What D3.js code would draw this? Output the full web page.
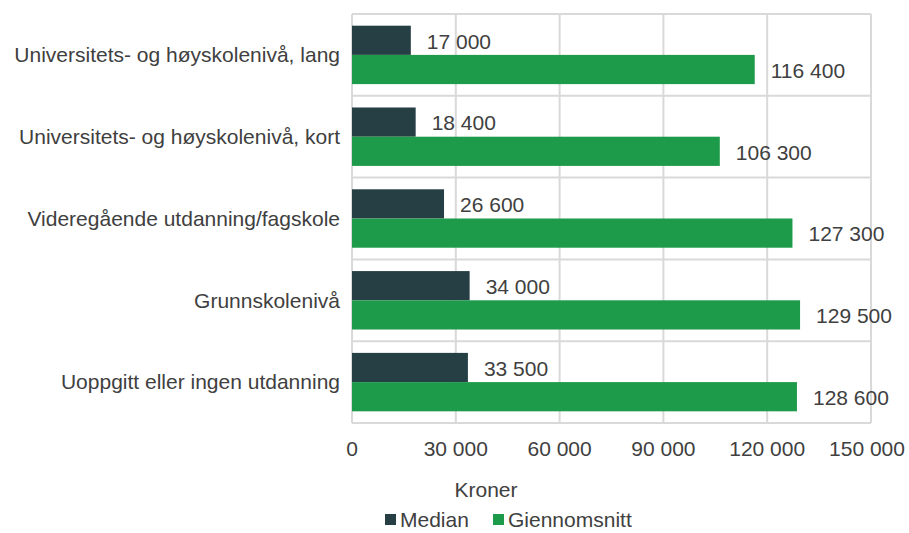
<!DOCTYPE html>
<html>
<head>
<meta charset="utf-8">
<script src="https://cdn.jsdelivr.net/npm/d3@7"></script>
<style>
  body { margin: 0; background: #fff; }
  text { font-family: "Liberation Sans", Arial, sans-serif; fill: #404040; }
</style>
</head>
<body>
<svg id="chart" width="909" height="533"></svg>
<script>
const categories = [
  "Universitets- og høyskolenivå, lang",
  "Universitets- og høyskolenivå, kort",
  "Videregående utdanning/fagskole",
  "Grunnskolenivå",
  "Uoppgitt eller ingen utdanning"
];
const seriesNames = ["Median", "Giennomsnitt"];
const medianValues = [17000, 18400, 26600, 34000, 33500];
const meanValues = [116400, 106300, 127300, 129500, 128600];
const tickValues = [0, 30000, 60000, 90000, 120000, 150000];
const colors = ["#263f45", "#1e9b4a"];
const axisTitle = "Kroner";

const svg = d3.select("#chart");
const margin = {left: 352, top: 14, right: 38, bottom: 110};
const W = 909, H = 533;
const FS = 21;
const fmt = v => d3.format(",")(v).replace(/,/g, " ");

const x = d3.scaleLinear().domain([0, 150000]).range([margin.left, W - margin.right]);
const y = d3.scaleBand().domain(categories).range([margin.top, H - margin.bottom]).paddingInner(0).paddingOuter(0);
const sub = d3.scaleBand().domain(seriesNames).range([0, y.bandwidth()]).paddingInner(0).paddingOuter(0.4);

const gridColor = "#d9d9d9";
svg.append("g").selectAll("line").data(tickValues).join("line")
  .attr("x1", d => x(d)).attr("x2", d => x(d))
  .attr("y1", y.range()[0]).attr("y2", y.range()[1])
  .attr("stroke", gridColor).attr("stroke-width", 2);
const bounds = categories.map(c => y(c)).concat([y.range()[1]]);
svg.append("g").selectAll("line").data(bounds).join("line")
  .attr("x1", x(0)).attr("x2", x(150000))
  .attr("y1", d => d).attr("y2", d => d)
  .attr("stroke", gridColor).attr("stroke-width", 2);

const data = [medianValues, meanValues];
data.forEach((vals, si) => {
  const g = svg.append("g");
  g.selectAll("rect").data(vals).join("rect")
    .attr("x", x(0))
    .attr("y", (d, i) => y(categories[i]) + sub(seriesNames[si]))
    .attr("width", d => x(d) - x(0))
    .attr("height", sub.bandwidth())
    .attr("fill", colors[si]);
  g.selectAll("text").data(vals).join("text")
    .attr("x", d => x(d) + 16)
    .attr("y", (d, i) => y(categories[i]) + sub(seriesNames[si]) + sub.bandwidth() / 2 + 1)
    .attr("dy", "0.35em")
    .attr("font-size", FS)
    .text(d => fmt(d));
});

svg.append("g").selectAll("text").data(categories).join("text")
  .attr("x", margin.left - 12)
  .attr("y", d => y(d) + y.bandwidth() / 2)
  .attr("dy", "0.35em")
  .attr("text-anchor", "end")
  .attr("font-size", FS)
  .text(d => d);

svg.append("g").selectAll("text").data(tickValues).join("text")
  .attr("x", d => Math.min(x(d), W - 42))
  .attr("y", y.range()[1] + 26)
  .attr("dy", "0.35em")
  .attr("text-anchor", "middle")
  .attr("font-size", FS)
  .text(d => fmt(d));

svg.append("text")
  .attr("x", 486).attr("y", 490).attr("dy", "0.35em")
  .attr("text-anchor", "middle").attr("font-size", FS)
  .text(axisTitle);

const legendX = [385, 493];
seriesNames.forEach((s, i) => {
  svg.append("rect").attr("x", legendX[i]).attr("y", 514).attr("width", 11).attr("height", 11).attr("fill", colors[i]);
  svg.append("text").attr("x", legendX[i] + 15).attr("y", 520).attr("dy", "0.35em")
    .attr("font-size", FS).text(s);
});
</script>
</body>
</html>
